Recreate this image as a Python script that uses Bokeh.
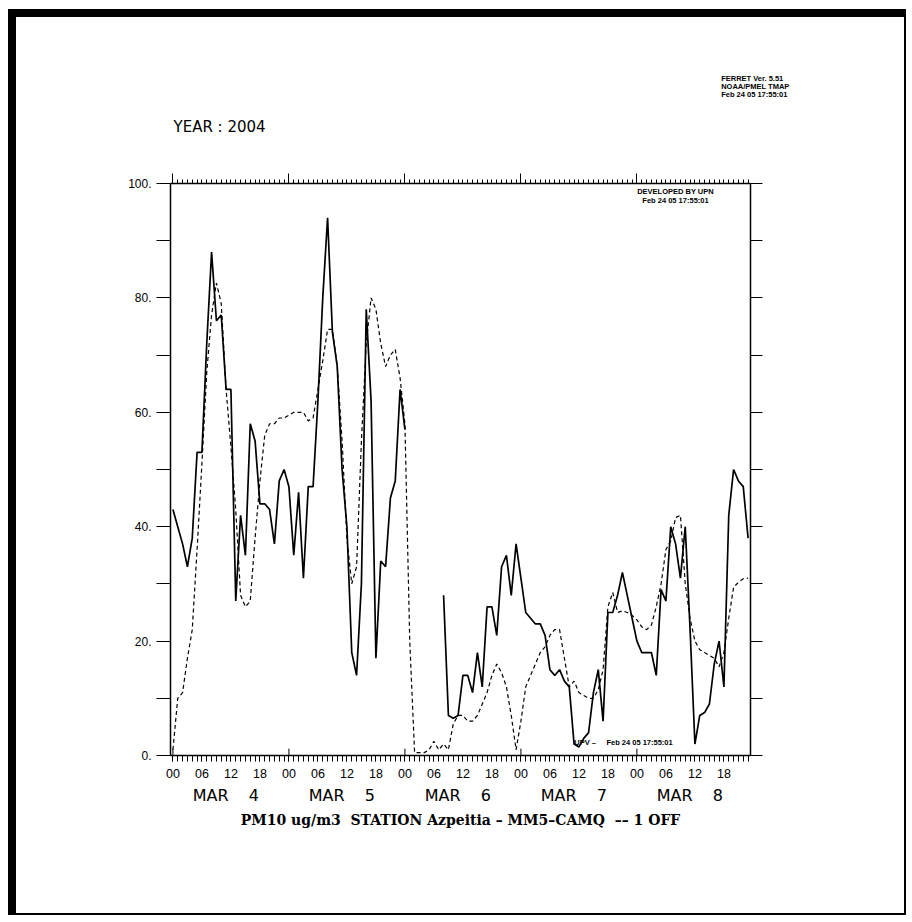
from bokeh.plotting import figure
from bokeh.models import Range1d, LinearAxis, FixedTicker, Label, Title
from bokeh.embed import file_html
from bokeh.resources import INLINE

nan = float("nan")
NB = "\u00a0"

# ---------------- data ----------------
hours = list(range(120))  # hours since MAR 4 00:00 (2004)

# solid line (station observation)
observed = [43, 40, 37, 33, 38, 53, 53, 72, 88, 76, 77, 64, 64, 27, 42, 35, 58, 55, 44, 44,
            43, 37, 48, 50, 47, 35, 46, 31, 47, 47, 62, 80, 94, 74, 68, 50, 40, 18, 14, 30,
            78, 62, 17, 34, 33, 45, 48, 64, 57,
            nan, nan, nan, nan, nan, nan, nan,
            28, 7, 6.5, 7, 14, 14, 11, 18, 12, 26, 26, 21, 33, 35, 28, 37, 31, 25, 24, 23,
            23, 21, 15, 14, 15, 13, 12, 2, 1.5, 3, 4, 11, 15, 6, 25, 25, 28, 32, 28, 24,
            20, 18, 18, 18, 14, 29, 27, 40, 37, 31, 40, 22, 2, 7, 7.5, 9, 16, 20, 12, 42,
            50, 48, 47, 38]

# dashed line (MM5-CAMQ model)
model = [1, 10, 11, 17, 22, 36, 51, 67, 77, 82.6, 79, 64, 54, 43, 28, 26, 27, 38, 48, 56,
         58, 58, 59, 59, 59.5, 60, 60, 60, 58.5, 59, 64, 69, 74.5, 74.5, 68, 55, 38, 30, 33, 55,
         72, 80, 78, 72, 68, 70, 71, 66, 58, 20, 0.5, 0.5, 0.5, 1, 2.5, 1, 2, 1, 5.5, 7,
         7, 6, 6, 7, 9, 11, 14, 16, 14.5, 12, 7, 1, 6, 12, 14, 16, 18, 19, 21, 22,
         22, 17, 12, 13, 11, 10.5, 10, 10, 11.5, 15, 26, 28.5, 25, 25.3, 25, 24.5, 23.7, 22.5, 22, 22.8,
         26, 30, 36, 37.5, 41.6, 42, 30, 24, 20, 18.5, 18, 17.5, 17, 15.5, 18, 24, 29.4, 30.3, 30.9, 31]

y_major = [0, 20, 40, 60, 80, 100]
y_minor = [10, 30, 50, 70, 90]
y_labels = {0: "0.", 20: "20.", 40: "40.", 60: "60.", 80: "80.", 100: "100."}
six_hour_ticks = list(range(0, 120, 6))
day_ticks = [0, 24, 48, 72, 96]
noon_ticks = [12, 36, 60, 84, 108]
day_labels = ["MAR" + NB * 4 + d + NB * 2 for d in ["4", "5", "6", "7", "8"]]

title_text = ("PM10 ug/m3" + NB * 2 + "STATION Azpeitia \u2013 MM5\u2013CAMQ" + NB * 2 +
              "\u2013\u2013 1 OFF")
year_text = "YEAR : 2004"
ferret_lines = ["FERRET Ver. 5.51", "NOAA/PMEL TMAP", "Feb 24 05 17:55:01"]
dev_lines = ["DEVELOPED BY UPN", "Feb 24 05 17:55:01"]
upv_text = "UPV \u2013" + NB * 5 + "Feb 24 05 17:55:01"

# ---------------- figure ----------------
W, H = 888, 896
p = figure(width=W, height=H, x_range=Range1d(-0.5, 119.5), y_range=Range1d(0, 100),
           output_backend="svg", toolbar_location=None, x_axis_location=None,
           y_axis_location="left",
           min_border_left=154, min_border_right=154, min_border_top=166, min_border_bottom=158)
p.styles = {"margin-left": "16px", "margin-top": "17px",
            "box-shadow": "-3px -3px 0 5px black"}
p.title.visible = False
p.background_fill_color = "white"
p.border_fill_color = "white"
p.outline_line_color = None
p.grid.grid_line_color = None

AX_W = 1.5
tick_font = "Liberation Sans"

# left axis
ya = p.yaxis[0]
ya.ticker = FixedTicker(ticks=y_major, minor_ticks=y_minor)
ya.major_label_overrides = y_labels
ya.major_tick_out = 14
ya.major_tick_in = 0
ya.minor_tick_out = 14
ya.minor_tick_in = 0
ya.major_label_standoff = 5
ya.major_label_text_font = tick_font
ya.major_label_text_font_size = "12px"
ya.major_label_text_color = "black"
ya.axis_line_width = AX_W
ya.axis_line_color = "black"
ya.major_tick_line_color = "black"
ya.minor_tick_line_color = "black"

# right axis (ticks only)
ra_ticks = y_major + y_minor
ra = LinearAxis(ticker=FixedTicker(ticks=ra_ticks))
ra.major_label_overrides = {t: "" for t in ra_ticks}
ra.major_tick_out = 12
ra.major_tick_in = 0
ra.minor_tick_out = 0
ra.axis_line_width = AX_W
ra.axis_line_color = "black"
ra.major_tick_line_color = "black"
p.add_layout(ra, "right")

# top axis (ticks only)
ta = LinearAxis(ticker=FixedTicker(ticks=day_ticks, minor_ticks=hours))
ta.major_label_overrides = {t: "" for t in day_ticks}
ta.major_tick_out = 10
ta.major_tick_in = 0
ta.minor_tick_out = 4
ta.minor_tick_in = 0
ta.axis_line_width = AX_W
ta.axis_line_color = "black"
ta.major_tick_line_color = "black"
ta.minor_tick_line_color = "black"
p.add_layout(ta, "above")

# header texts (stacked above the top axis)
p.add_layout(Title(text=NB, align="left", standoff=9,
                   text_font="DejaVu Sans", text_font_size="10px",
                   text_color="white"), "above")
p.add_layout(Title(text=year_text, align="left", offset=3, standoff=32,
                   text_font="DejaVu Sans", text_font_size="15px",
                   text_font_style="normal", text_color="black"), "above")
p.add_layout(Title(text="\n".join(ferret_lines), align="right", offset=-39, standoff=1,
                   text_font="Liberation Sans", text_font_size="7.5px",
                   text_line_height=0.9,
                   text_font_style="bold", text_color="black"), "above")

# bottom axis: hours
ba = LinearAxis(ticker=FixedTicker(ticks=six_hour_ticks, minor_ticks=hours))
ba.major_label_overrides = {h: "%02d" % (h % 24) for h in six_hour_ticks}
ba.major_tick_out = 6
ba.major_tick_in = 0
ba.minor_tick_out = 6
ba.minor_tick_in = 0
ba.major_label_standoff = 7
ba.major_label_text_font = tick_font
ba.major_label_text_font_size = "12.5px"
ba.major_label_text_color = "black"
ba.axis_line_width = AX_W
ba.axis_line_color = "black"
ba.major_tick_line_color = "black"
ba.minor_tick_line_color = "black"
p.add_layout(ba, "below")

# bottom axis: days + title
da = LinearAxis(ticker=FixedTicker(ticks=noon_ticks, minor_ticks=[]))
da.major_label_overrides = dict(zip(noon_ticks, day_labels))
da.major_tick_out = 0
da.major_tick_in = 0
da.minor_tick_out = 0
da.axis_line_color = None
da.major_label_standoff = 5
da.major_label_text_font = "DejaVu Sans"
da.major_label_text_font_size = "16px"
da.major_label_text_color = "black"
da.axis_label = title_text
da.axis_label_standoff = 4
da.axis_label_text_font = "DejaVu Serif"
da.axis_label_text_font_style = "bold"
da.axis_label_text_font_size = "14px"
da.axis_label_text_color = "black"
p.add_layout(da, "below")

# inward day ticks on bottom axis
p.segment(x0=day_ticks, y0=[0] * len(day_ticks), x1=day_ticks, y1=[1.2] * len(day_ticks),
          line_color="black", line_width=1)

# series
p.line(hours, model, line_color="black", line_width=1.2, line_dash="4 3")
p.line(hours, observed, line_color="black", line_width=1.7)

# small stamps inside the plot frame (canvas coordinates)
def canvas_label(x, y, text, size):
    p.add_layout(Label(x=x, y=y, x_units="canvas", y_units="canvas", text=text,
                       text_font="Liberation Sans", text_font_size=size,
                       text_font_style="bold", text_align="center",
                       text_baseline="middle", text_color="black"))

for i, t in enumerate(dev_lines):
    canvas_label(659, 174 + 8.5 * i, t, "7.5px")
canvas_label(607, 725, upv_text, "7.5px")

open("out.html", "w").write(file_html(p, INLINE))
